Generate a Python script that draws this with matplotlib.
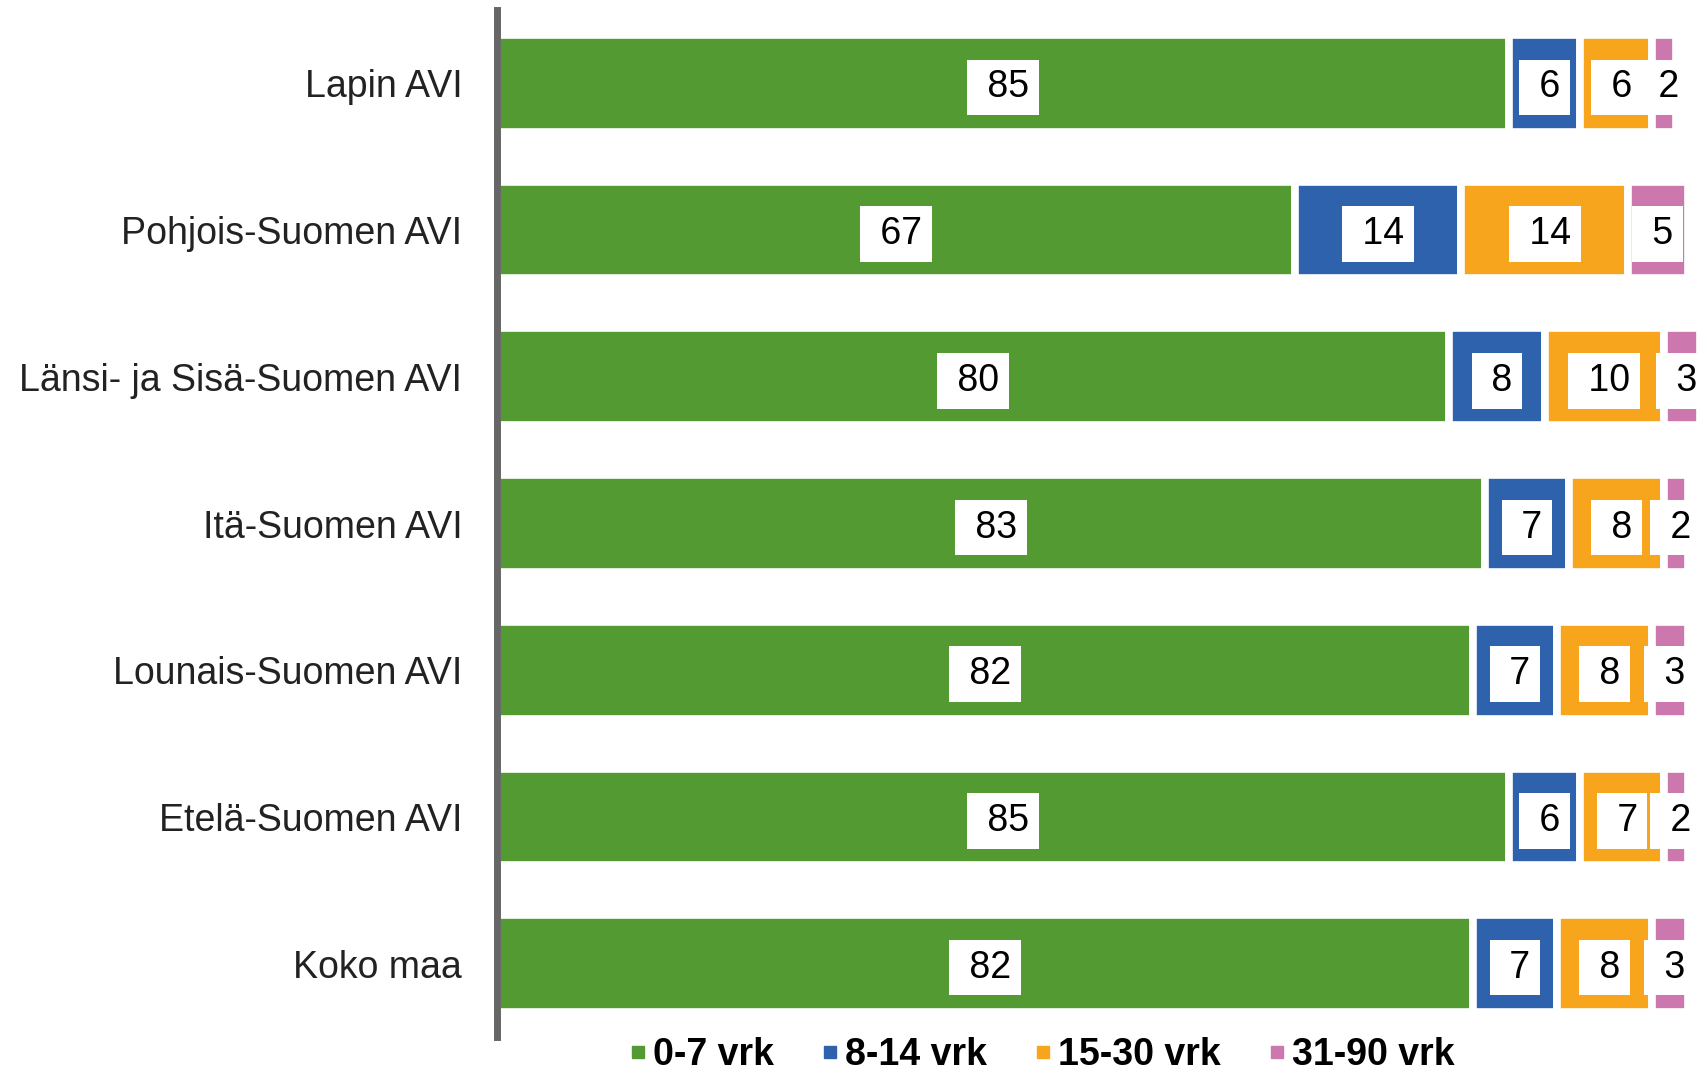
import matplotlib.pyplot as plt
from matplotlib.lines import Line2D
import numpy as np

plt.rcParams['font.family'] = ['Liberation Sans', 'DejaVu Sans']

regions = ['Lapin AVI', 'Pohjois-Suomen AVI', 'Länsi- ja Sisä-Suomen AVI',
           'Itä-Suomen AVI', 'Lounais-Suomen AVI', 'Etelä-Suomen AVI', 'Koko maa']
series_names = ['0-7 vrk', '8-14 vrk', '15-30 vrk', '31-90 vrk']
d0_7 = [85, 67, 80, 83, 82, 85, 82]
d8_14 = [6, 14, 8, 7, 7, 6, 7]
d15_30 = [6, 14, 10, 8, 8, 7, 8]
d31_90 = [2, 5, 3, 2, 3, 2, 3]
colors = ['#529a31', '#2e62ad', '#f8a51e', '#cc78ae']

fig = plt.figure(figsize=(17.06, 10.71), dpi=100)
ax = fig.add_axes([0.2913, 0.0317, 0.7084, 0.959])

y = np.arange(len(regions))
left = np.zeros(len(regions))
for vals, name, c in zip([d0_7, d8_14, d15_30, d31_90], series_names, colors):
    vals = np.array(vals, dtype=float)
    ax.barh(y, vals, left=left, height=0.66, color=c, edgecolor='white',
            linewidth=5.5, label=name)
    for yi, (l, v) in enumerate(zip(left, vals)):
        ax.text(l + v / 2, yi, ' %d' % v, ha='center', va='center_baseline',
                fontsize=27, color='black', zorder=5,
                bbox=dict(boxstyle='square,pad=0.26', fc='white', ec='none'))
    left += vals

ax.set_xlim(0, 101.5)
ax.set_ylim(len(regions) - 0.5, -0.5)
ax.set_yticks(y)
ax.set_yticklabels(regions, fontsize=27, color='#222222')
ax.tick_params(axis='y', length=0, pad=25)
ax.set_xticks([])
for s in ['top', 'right', 'bottom']:
    ax.spines[s].set_visible(False)
ax.spines['left'].set_color('#666666')
ax.spines['left'].set_linewidth(5)
ax.spines['left'].set_zorder(6)

handles = [Line2D([], [], marker='s', linestyle='', color=c, markersize=8.5)
           for c in colors]
fig.legend(handles, series_names, loc='center', bbox_to_anchor=(0.611, 0.015),
           ncol=4, frameon=False, handlelength=0.4, handletextpad=0.2,
           columnspacing=1.3, borderpad=0,
           prop={'weight': 'bold', 'size': 27})

plt.savefig('out.png', dpi=100)
